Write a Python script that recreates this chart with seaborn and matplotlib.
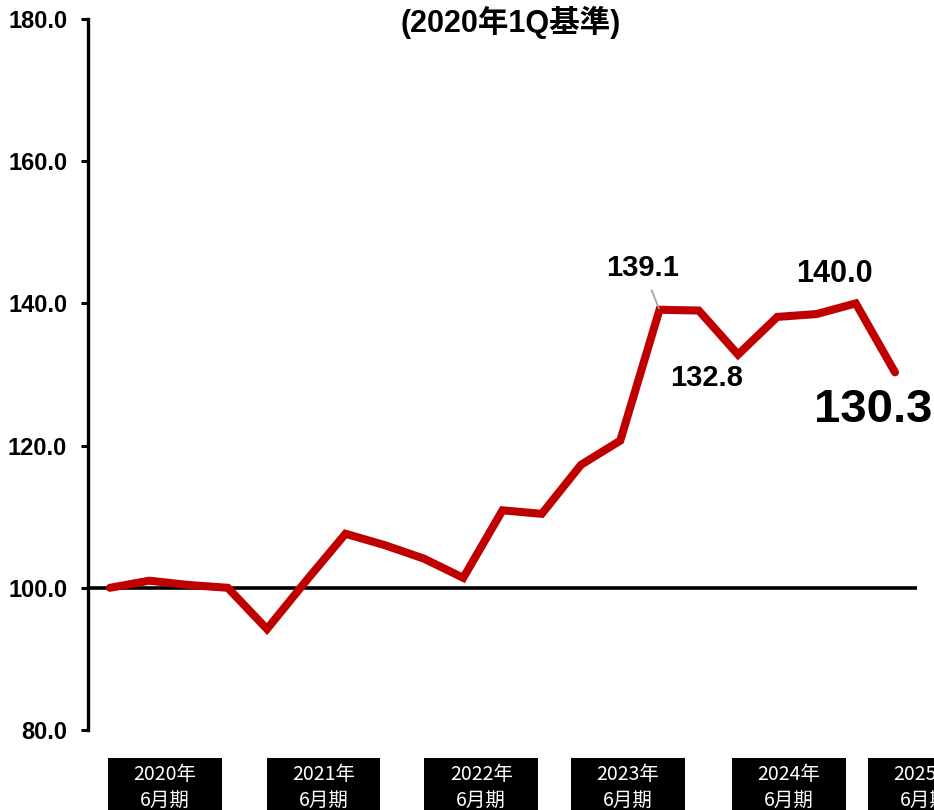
import matplotlib
matplotlib.use("Agg")
import matplotlib.pyplot as plt
from matplotlib.patches import Rectangle
import seaborn as sns
import numpy as np
import pandas as pd

# ---- data ----
quarters = [
    "FY2020 1Q", "FY2020 2Q", "FY2020 3Q", "FY2020 4Q",
    "FY2021 1Q", "FY2021 2Q", "FY2021 3Q", "FY2021 4Q",
    "FY2022 1Q", "FY2022 2Q", "FY2022 3Q", "FY2022 4Q",
    "FY2023 1Q", "FY2023 2Q", "FY2023 3Q", "FY2023 4Q",
    "FY2024 1Q", "FY2024 2Q", "FY2024 3Q", "FY2024 4Q",
    "FY2025 1Q",
]
index_values = [
    100.0, 101.0, 100.4, 100.0,
    94.2, 101.0, 107.6, 106.0,
    104.1, 101.4, 110.9, 110.4,
    117.3, 120.7, 139.1, 139.0,
    132.8, 138.1, 138.5, 140.0,
    130.3,
]
title_text = "(2020年1Q基準)"
fy_labels = [("2020年", "6月期"), ("2021年", "6月期"), ("2022年", "6月期"),
             ("2023年", "6月期"), ("2024年", "6月期"), ("2025年", "6月期")]
fy_centers = [1.4, 5.44, 9.46, 13.2, 17.3, 20.76]
y_ticks = [80, 100, 120, 140, 160, 180]
# annotated points: (index, label, offset px, fontsize, leader)
annotations = [
    (14, "139.1", (-17, 42), 21, True),
    (16, "132.8", (-31, -23), 21, False),
    (19, "140.0", (-21, 29), 22, False),
    (20, "130.3", (-22, -38), 34, False),
]

df = pd.DataFrame({"q": np.arange(len(quarters)), "v": index_values, "label": quarters})

sns.set_style("white")
plt.rcParams["font.family"] = ["Liberation Sans", "Noto Sans CJK JP", "DejaVu Sans"]
plt.rcParams["text.color"] = "black"
plt.rcParams["ytick.color"] = "black"
plt.rcParams["axes.labelcolor"] = "black"

W, H = 934, 810
fig = plt.figure(figsize=(W / 100, H / 100), dpi=100)
ax = fig.add_axes([88 / W, 80 / H, (917 - 88) / W, (730 - 19) / H])

ax.axhline(100, color="black", lw=2.6, zorder=2)
sns.lineplot(data=df, x="q", y="v", color="#C00000", lw=5.8, ax=ax, zorder=3,
             solid_joinstyle="miter", solid_capstyle="round")

ax.set_xlim(-0.56, len(quarters) - 1 + 0.56)
ax.set_ylim(80, 180)
ax.set_yticks(y_ticks)
ax.set_yticklabels([f"{t:.1f}" for t in y_ticks], fontsize=17, fontweight="bold", color="black")
ax.set_xticks([])
ax.set_xlabel("")
ax.set_ylabel("")
for s in ["top", "right", "bottom"]:
    ax.spines[s].set_visible(False)
ax.spines["left"].set_linewidth(2.4)
ax.spines["left"].set_color("black")
ax.tick_params(axis="y", direction="out", length=5, width=2.2, color="black", pad=10,
               left=True, labelcolor="black")

for idx, lab, off, fs, leader in annotations:
    kw = {}
    if leader:
        kw["arrowprops"] = dict(arrowstyle="-", color="#a0a0a0", lw=1.2, shrinkA=4, shrinkB=1)
    ax.annotate(lab, xy=(idx, index_values[idx]), xytext=off, textcoords="offset pixels",
                ha="center", va="center", fontsize=fs, fontweight="bold", color="black", **kw)

fig.text(511 / W, 1 - 22 / H, title_text, ha="center", va="center", fontsize=22,
         fontweight="bold", color="black", family=["Liberation Sans", "Noto Sans CJK JP"])

trans = ax.get_xaxis_transform()
px2ax = 1 / (730 - 19)
for (l1, l2), c in zip(fy_labels, fy_centers):
    rect = Rectangle((c - 1.45, -(810 + 20 - 730) * px2ax), 2.9, (810 + 20 - 758) * px2ax,
                     transform=trans, facecolor="black", edgecolor="none", clip_on=False)
    ax.add_patch(rect)
    ax.text(c, -(775 - 730) * px2ax, l1, transform=trans, ha="center", va="center",
            color="white", fontsize=14, family=["Noto Sans CJK JP"], clip_on=False)
    ax.text(c, -(800 - 730) * px2ax, l2, transform=trans, ha="center", va="center",
            color="white", fontsize=14, family=["Noto Sans CJK JP"], clip_on=False)

fig.savefig("out.png", dpi=100)
